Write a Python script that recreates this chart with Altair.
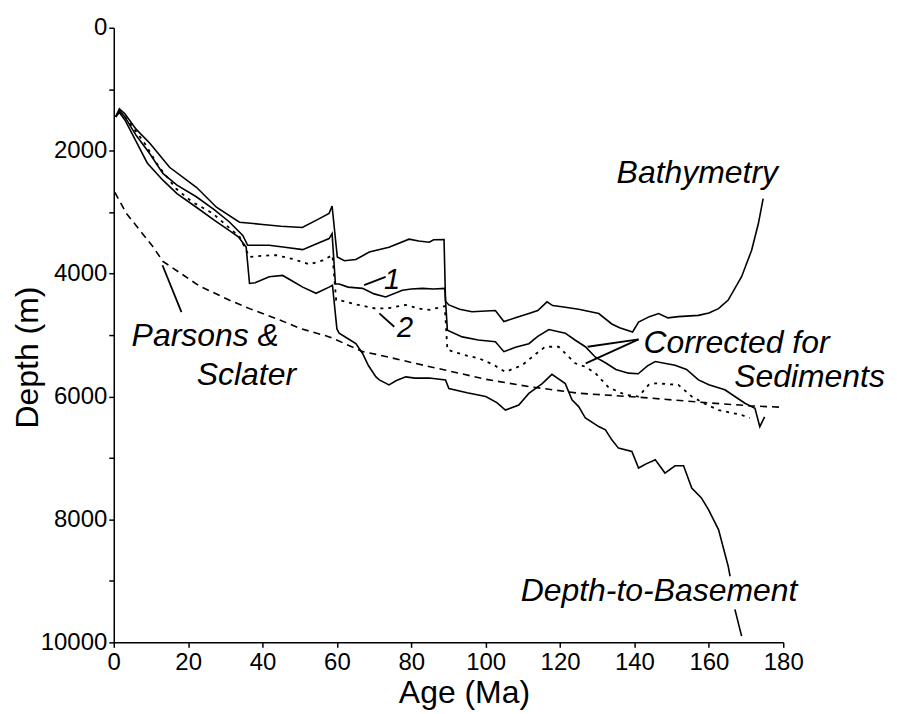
import altair as alt
import pandas as pd

# ---- data (age in Ma, depth in m) ----
bath_age = [0.5, 1.5, 3, 6, 9.7, 15, 22.3, 27.6, 33.8, 40, 45, 50.7, 54.5, 57.9, 58.7,
            60.1, 62, 65.1, 68.7, 74, 79.4, 82, 84.8, 86, 88.8,
            89.2, 90.1, 93, 96.3, 102.6, 104.9, 108, 111.6, 114, 116.5, 118, 120.5, 125,
            130.4, 133.9, 136, 139.5, 141.1, 144, 146.5, 149, 151.8, 157.2, 160, 162.6,
            165.2, 168.8, 171.5, 173.3, 174.6]
bath_depth = [1450, 1320, 1400, 1650, 1880, 2270, 2600, 2920, 3165, 3200, 3230, 3250, 3130, 3020, 2900,
              3730, 3790, 3770, 3650, 3570, 3440, 3470, 3490, 3450, 3445,
              4450, 4510, 4580, 4620, 4600, 4780, 4720, 4650, 4600, 4460, 4520, 4540, 4580,
              4650, 4820, 4880, 4950, 4790, 4700, 4650, 4720, 4700, 4680, 4640, 4570,
              4430, 4050, 3620, 3190, 2780]

corr1_age = [0.5, 1.5, 3, 6, 9.7, 13.2, 17, 22.2, 27, 31.1, 34.7, 36, 41.8, 46, 50.8, 54.4, 57.9, 58.7,
             59.6, 60.6, 63, 66.9, 70, 73.1, 77.6, 80, 83, 86, 89,
             89.7, 93.7, 98, 102.6, 104.9, 108, 111.6, 114, 117, 121.4, 124, 126.8, 129.5, 132.2,
             135, 138.4, 141, 143.5, 145.6, 150.9, 154, 157.2, 160, 164.3, 167, 169.7, 172.4, 173.7, 175]
corr1_depth = [1450, 1350, 1450, 1750, 2050, 2370, 2560, 2750, 2960, 3160, 3380, 3540, 3540, 3570, 3610, 3520, 3430, 3350,
               4170, 4170, 4220, 4240, 4330, 4380, 4270, 4250, 4240, 4250, 4240,
               4920, 5030, 5080, 5110, 5270, 5200, 5140, 5020, 4910, 4970, 5080, 5190, 5360, 5450,
               5560, 5620, 5630, 5500, 5430, 5490, 5560, 5730, 5810, 5890, 6000, 6110, 6190, 6490, 6330]

corr2_age = [3, 8, 12, 16.8, 21, 26.6, 30, 33.8, 36.5, 40, 43.6, 48, 52.6, 56, 58.8,
             59.8, 60.6, 65, 70.5, 74, 78.5, 82, 84.8, 89,
             89.7, 94, 98.2, 102, 105.3, 109.8, 113, 116, 119.6, 124.1, 126.8, 129.5, 133,
             137.5, 141.1, 143.8, 145.6, 151.8, 155.4, 159, 162.6, 168.8, 171]
corr2_depth = [1450, 1850, 2250, 2620, 2830, 3020, 3200, 3400, 3730, 3710, 3700, 3760, 3850, 3790, 3700,
               4430, 4430, 4500, 4570, 4560, 4510, 4570, 4590, 4530,
               5240, 5320, 5380, 5480, 5600, 5490, 5330, 5190, 5190, 5460, 5515, 5620, 5850,
               5970, 6000, 5810, 5785, 5810, 6000, 6120, 6220, 6300, 6350]

base_age = [0.5, 1.5, 3, 6, 9, 13.2, 17, 22.2, 27, 31.1, 33.5, 35.6, 36.5, 38, 41.8, 45.4, 48, 50.8,
            54.4, 57.9, 58.8, 60, 60.6, 63, 65.1, 66.9, 68.5, 70.5, 71.4, 74, 76, 78.5, 81, 84.8,
            89.2, 90.1, 95, 100, 103, 105.3, 108.9, 111.6, 115.2, 117.8, 121.4, 123.2, 125, 126.8,
            130.4, 132.2, 133.9, 135.7, 139.3, 141.1, 143, 145.6, 148.2, 150.9, 153.2, 155.4, 158,
            159.9, 162.6, 165.2, 165.7]
base_depth = [1450, 1380, 1500, 1850, 2200, 2480, 2700, 2920, 3130, 3300, 3400, 3570, 4160, 4150, 4050, 4030, 4120, 4220,
              4320, 4220, 4190, 4900, 4970, 5060, 5140, 5300, 5500, 5680, 5730, 5810, 5740, 5680, 5700, 5700,
              5730, 5870, 5940, 6000, 6100, 6220, 6140, 5950, 5790, 5640, 5790, 6055, 6164, 6350,
              6489, 6542, 6705, 6840, 6895, 7164, 7100, 7030, 7245, 7127, 7127, 7489, 7650,
              7841, 8166, 8761, 8924]
base_tail_age = [167, 168.8]
base_tail_depth = [9464, 9898]

ps_age = [0.3, 3.4, 10.5, 13.2, 23, 31, 36.5, 44.5, 50, 58, 67, 71.4, 85, 89, 100, 111.6,
          125, 141, 159, 171.5, 179.5]
ps_depth = [2680, 3020, 3560, 3800, 4200, 4430, 4570, 4750, 4890, 5030, 5270, 5325, 5515, 5568,
            5720, 5839, 5947, 6010, 6099, 6153, 6174]

x_ticks = [0, 20, 40, 60, 80, 100, 120, 140, 160, 180]
y_ticks = [0, 1000, 2000, 3000, 4000, 5000, 6000, 7000, 8000, 9000, 10000]

label_text = ["Bathymetry", "Corrected for", "Sediments", "Depth-to-Basement", "Parsons &", "Sclater"]
label_age = [135.2, 142.4, 166.8, 109.4, 4.8, 22.3]
label_depth = [2532, 5292, 5844, 9334, 5179, 5812]

num_text = ["1", "2"]
num_age = [74.8, 78.3]
num_depth = [4253, 5032]

leader_age = [13.1, 67.3, 71.4, 141.1, 141.1]
leader_depth = [3864, 4188, 4648, 5070, 5070]
leader_age2 = [18.2, 73.1, 75.4, 127.4, 126.9]
leader_depth2 = [4627, 4054, 4865, 5190, 5460]

# ---- tables ----
def series(name, ages, depths):
    return pd.DataFrame({"series": name, "age": ages, "depth": depths, "i": range(len(ages))})

solid = pd.concat([
    series("Bathymetry", bath_age, bath_depth),
    series("Corrected 1", corr1_age, corr1_depth),
    series("Basement", base_age, base_depth),
    series("Basement tail", base_tail_age, base_tail_depth),
])
dotted = series("Corrected 2", corr2_age, corr2_depth)
dashed = series("Parsons & Sclater", ps_age, ps_depth)
labels = pd.DataFrame({"t": label_text, "age": label_age, "depth": label_depth})
nums = pd.DataFrame({"t": num_text, "age": num_age, "depth": num_depth})
leaders = pd.DataFrame({"age": leader_age, "depth": leader_depth,
                        "age2": leader_age2, "depth2": leader_depth2})

FONT = "Liberation Sans"

xs = alt.Scale(domain=[0, 180], nice=False, zero=False)
ys = alt.Scale(domain=[0, 10000], reverse=True, nice=False)

x_enc = alt.X("age:Q", scale=xs, axis=alt.Axis(
    title="Age (Ma)", values=x_ticks, format="d", grid=False,
    labelFontSize=24, titleFontSize=32, titleFontWeight="normal",
    tickSize=5, labelPadding=3, titleX=351, titleY=60, titleBaseline="alphabetic",
    titleAlign="center", labelFlush=False))
y_enc = alt.Y("depth:Q", scale=ys, axis=alt.Axis(
    title="Depth (m)", values=y_ticks, format="d", grid=False,
    labelExpr="datum.value % 2000 === 0 ? datum.label : ''",
    labelFontSize=24, titleFontSize=32, titleFontWeight="normal",
    tickSize=5, labelPadding=2, titleAngle=270, titleX=-76, titleY=330,
    titleBaseline="alphabetic", titleAlign="center", labelFlush=False))

solid_layer = alt.Chart(solid).mark_line(color="black", strokeWidth=1.6).encode(
    x=x_enc, y=y_enc, detail="series:N", order="i:Q")
dotted_layer = alt.Chart(dotted).mark_line(color="black", strokeWidth=1.8, strokeDash=[3, 5]).encode(
    x="age:Q", y="depth:Q", order="i:Q")
dashed_layer = alt.Chart(dashed).mark_line(color="black", strokeWidth=1.6, strokeDash=[7, 5]).encode(
    x="age:Q", y="depth:Q", order="i:Q")
leader_layer = alt.Chart(leaders).mark_rule(color="black", strokeWidth=1.8).encode(
    x="age:Q", y="depth:Q", x2="age2:Q", y2="depth2:Q")
label_layer = alt.Chart(labels).mark_text(
    align="left", baseline="alphabetic", font=FONT, fontSize=32, fontStyle="italic", color="black"
).encode(x="age:Q", y="depth:Q", text="t:N")
num_layer = alt.Chart(nums).mark_text(
    align="center", baseline="alphabetic", font=FONT, fontSize=29, fontStyle="italic", color="black"
).encode(x="age:Q", y="depth:Q", text="t:N")

chart = alt.layer(solid_layer, dotted_layer, dashed_layer, leader_layer, label_layer, num_layer).properties(
    width=671, height=616,
    autosize=alt.AutoSizeParams(type="none"),
    padding={"left": 106, "top": 19, "right": 106, "bottom": 71},
    background="white",
).configure_view(stroke=None).configure_axis(
    labelFont=FONT, titleFont=FONT, labelColor="black", titleColor="black",
    domainColor="black", tickColor="black", domainWidth=1.5, tickWidth=1.5
)

chart.save("out.html", embed_options={"renderer": "svg", "actions": False})
